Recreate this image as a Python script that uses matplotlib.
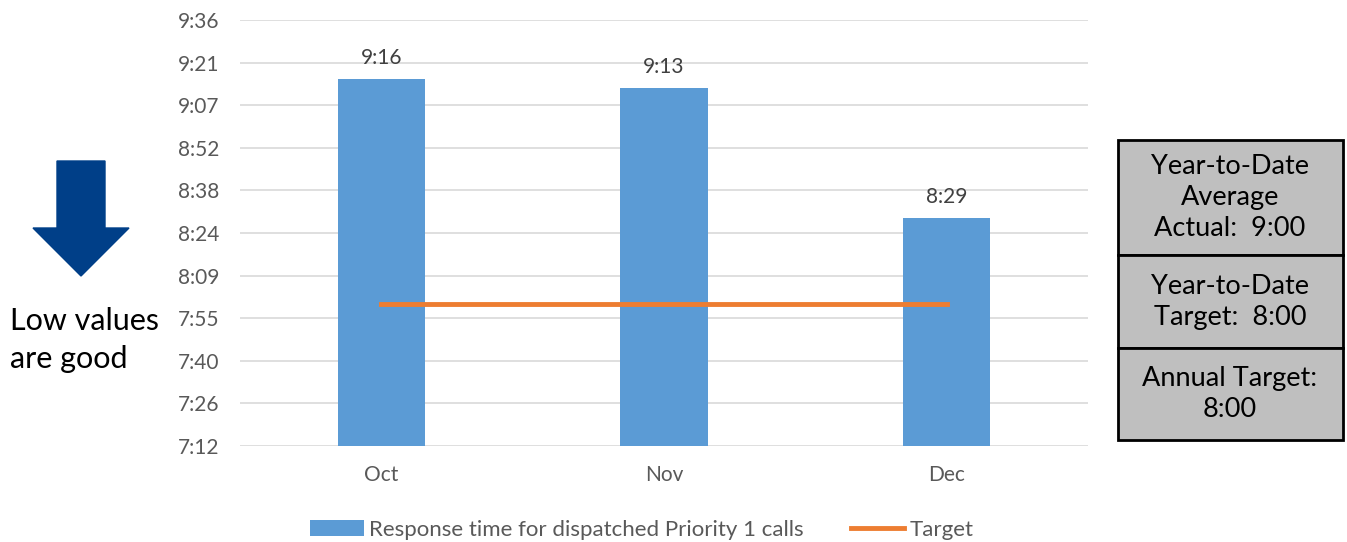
import matplotlib.pyplot as plt
from matplotlib.patches import Polygon, Rectangle
import numpy as np

# monthly response times, in minutes
months = ['Oct', 'Nov', 'Dec']
response_min = [9 * 60 + 16, 9 * 60 + 13, 8 * 60 + 29]
target_min = [8 * 60, 8 * 60, 8 * 60]

# y axis: excel style day fractions 0.30 .. 0.40 shown as h:mm
tick_days = [0.30, 0.31, 0.32, 0.33, 0.34, 0.35, 0.36, 0.37, 0.38, 0.39, 0.40]

box_texts = ['Year-to-Date\nAverage\nActual:  9:00',
             'Year-to-Date\nTarget:  8:00',
             'Annual Target:\n8:00']

BLUE = '#5B9BD5'
ORANGE = '#ED7D31'
GREY_TXT = '#595959'

plt.rcParams['font.family'] = ['Lato', 'DejaVu Sans']

W, H = 1347, 542
fig = plt.figure(figsize=(W / 100, H / 100), dpi=100)


def fx(px):
    return px / W


def fy(py):
    return 1 - py / H


ax = fig.add_axes([fx(240), fy(446), fx(1088) - fx(240), fy(20) - fy(446)])

x = np.arange(len(months))
bars = ax.bar(x, response_min, width=0.31, color=BLUE, zorder=2,
              label='Response time for dispatched Priority 1 calls')
line, = ax.plot(x, target_min, color=ORANGE, lw=3.5, zorder=3, label='Target')


def fmt(m):
    m = int(np.floor(m + 1e-6))
    return '%d:%02d' % (m // 60, m % 60)


for xi, v in zip(x, response_min):
    ax.annotate(fmt(v), (xi, v), xytext=(0, 8), textcoords='offset points',
                ha='center', va='bottom', fontsize=15, color='#404040')

ticks = [d * 24 * 60 for d in tick_days]
ax.set_ylim(ticks[0], ticks[-1])
ax.set_yticks(ticks)
ax.set_yticklabels([fmt(t) for t in ticks])
ax.set_xlim(-0.5, 2.5)
ax.set_xticks(x)
ax.set_xticklabels(months)
ax.grid(axis='y', color='#D9D9D9', lw=1.2, zorder=0)
for s in ax.spines.values():
    s.set_visible(False)
ax.tick_params(length=0, labelsize=15, labelcolor=GREY_TXT)
ax.tick_params(axis='y', pad=15)
ax.tick_params(axis='x', pad=14)

fig.legend([bars, line], [bars.get_label(), line.get_label()],
           loc='center', bbox_to_anchor=(fx(642), fy(530)), ncol=2,
           frameon=False, fontsize=16, labelcolor=GREY_TXT,
           handlelength=2.4, handletextpad=0.25, columnspacing=2.1,
           handleheight=0.75)

# arrow on the left
arrow_px = [(57, 161), (105, 161), (105, 228), (129, 228), (81, 276),
            (33, 228), (57, 228)]
fig.patches.append(Polygon([(fx(a), fy(b)) for a, b in arrow_px],
                           closed=True, transform=fig.transFigure,
                           color='#003F88', figure=fig))
fig.text(fx(10), fy(321), 'Low values', fontsize=22, ha='left', va='center')
fig.text(fx(10), fy(359), 'are good', fontsize=22, ha='left', va='center')

# summary boxes on the right
edges = [140, 255, 348, 440]
for i, t in enumerate(box_texts):
    top, bot = edges[i], edges[i + 1]
    fig.patches.append(Rectangle((fx(1118), fy(bot)), fx(1343) - fx(1118),
                                 fy(top) - fy(bot), transform=fig.transFigure,
                                 facecolor='#BFBFBF', edgecolor='black',
                                 lw=2, figure=fig))
    fig.text(fx(1230), fy((top + bot) / 2), t, fontsize=19.5, ha='center',
             va='center', linespacing=1.3)

fig.savefig('out.png', dpi=100)
